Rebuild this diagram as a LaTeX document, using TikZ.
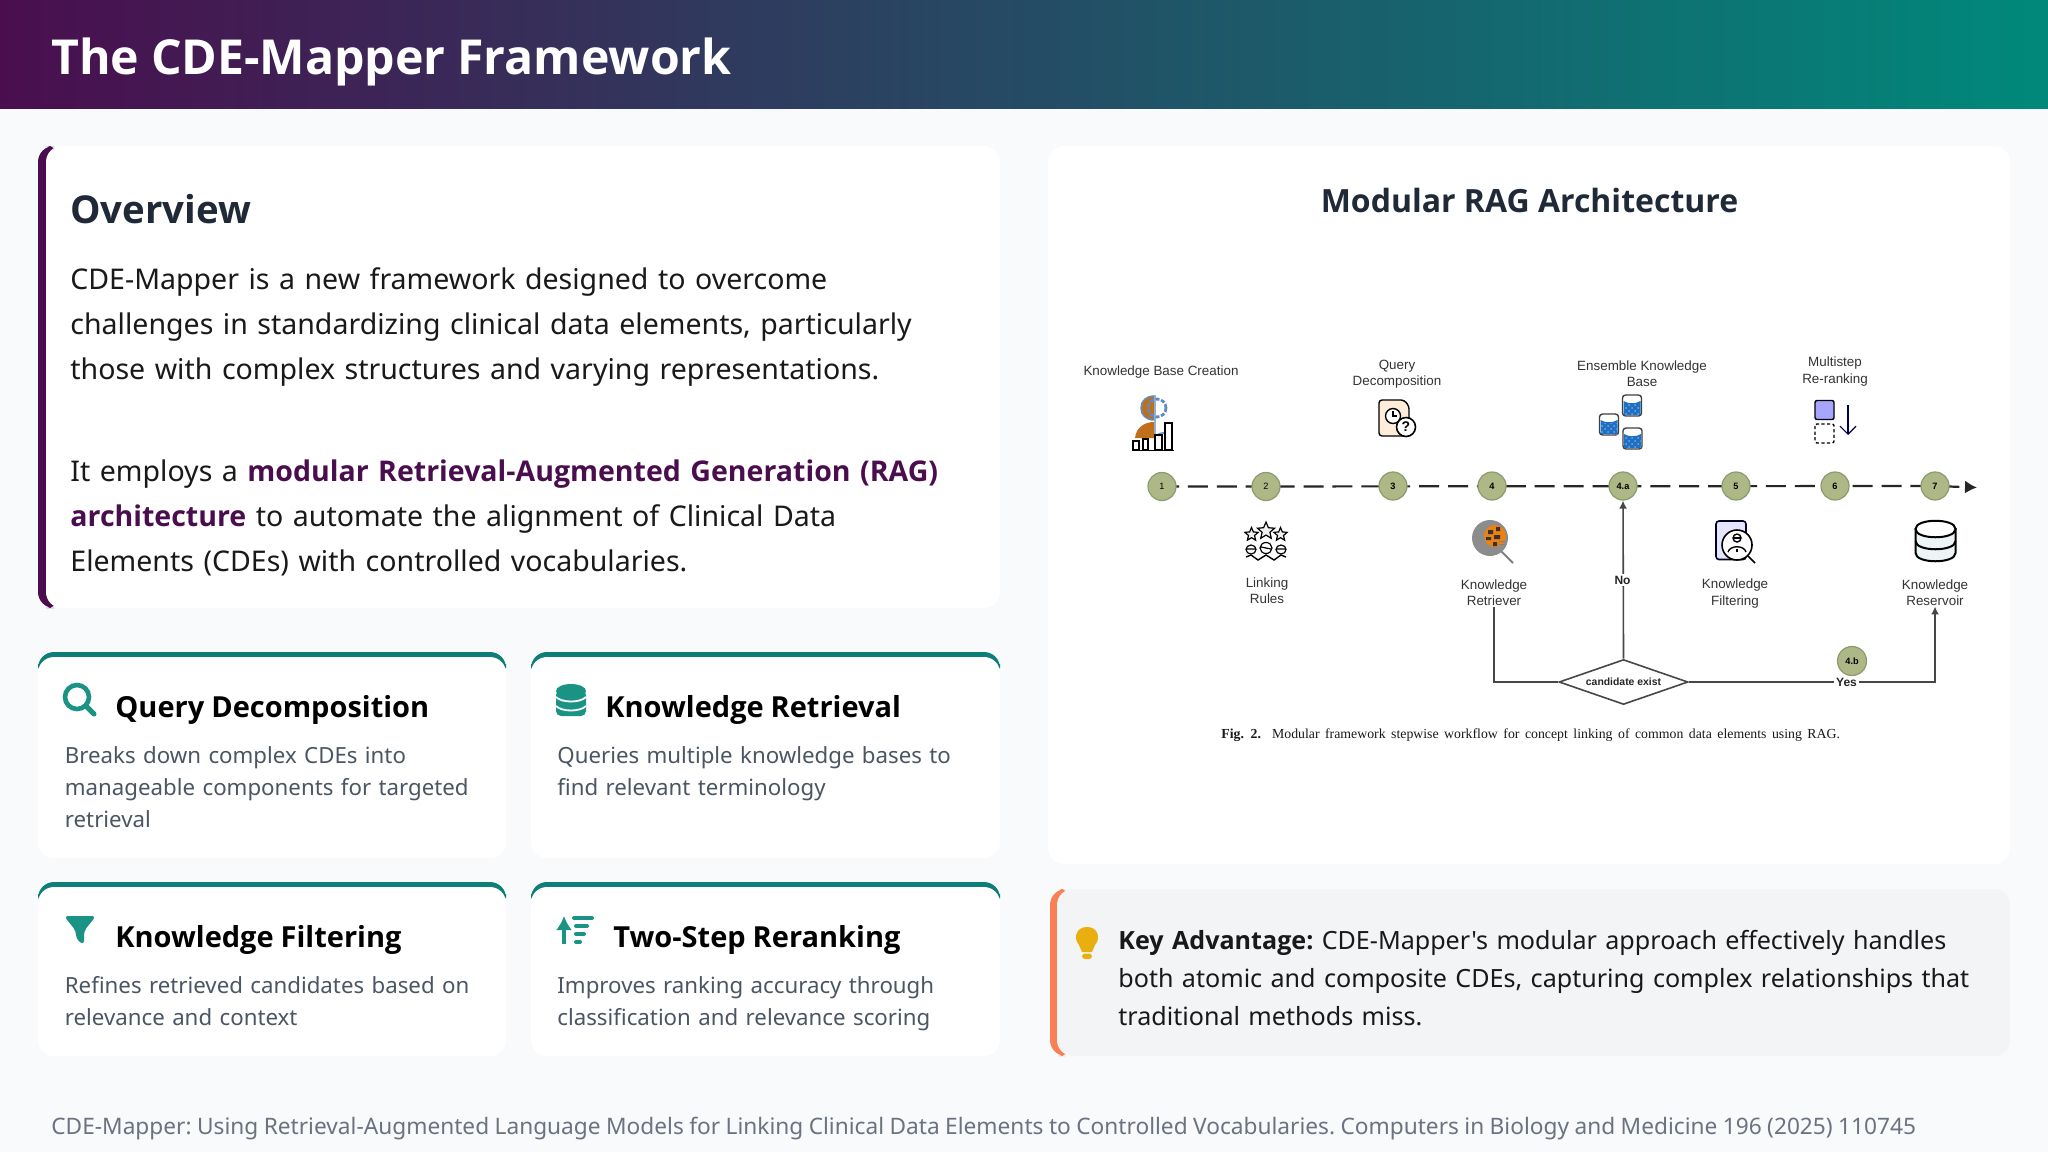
\documentclass[tikz,border=0pt]{standalone}
\usepackage{xcolor}
\usepackage{fontspec}
\usepackage{tikz}
\usetikzlibrary{shapes,arrows.meta,positioning,calc,patterns}
\setmainfont[Ligatures=TeXOff]{Noto Sans}
\newfontfamily\headfont{Open Sans}
\newfontfamily\figfont{Liberation Sans}
\newfontfamily\capfont[WordSpace=1.6]{Liberation Serif}
\newcommand{\hb}{\headfont\bfseries}
\newcommand{\fsz}[2]{\fontsize{#1}{#2}\selectfont\frenchspacing\spaceskip=0.24em\relax}

\definecolor{pagebg}{HTML}{F8FAFC}
\definecolor{plum}{HTML}{4A0E4E}
\definecolor{midnavy}{HTML}{2D4069}
\definecolor{tealend}{HTML}{00897B}
\definecolor{tealbar}{HTML}{0E7F76}
\definecolor{tealicon}{HTML}{1A9385}
\definecolor{inkdark}{HTML}{1F2937}
\definecolor{inkbody}{HTML}{4B5563}
\definecolor{inkfoot}{HTML}{6B7280}
\definecolor{keybg}{HTML}{F3F4F6}
\definecolor{coral}{HTML}{F97F55}
\definecolor{bulb}{HTML}{E8AF0E}
\definecolor{olive}{HTML}{AEB886}
\definecolor{oliveline}{HTML}{8C9A6E}
\definecolor{rust}{HTML}{C0701A}
\definecolor{gearblue}{HTML}{5B8CC8}
\definecolor{drum}{HTML}{1F6FC4}

\pgfdeclarelayer{steps}
\pgfsetlayers{main,steps}

\tikzset{
    txt/.style={inner sep=0pt,anchor=base west,align=left},
    cardtitle/.style={txt,text=black,font=\fsz{14.5}{18}\hb},
    cardbody/.style={txt,text=inkbody,text width=215pt,font=\fsz{11.13}{16}},
    stepdot/.style={circle,draw=oliveline,fill=olive,line width=0.6pt,minimum size=14pt,inner sep=0pt,font=\figfont\fontsize{4.6}{5}\selectfont\bfseries},
    figlabel/.style={inner sep=0pt,align=center,text=black!80,font=\figfont\fontsize{6.7}{8.1}\selectfont},
    flowline/.style={draw=black!72,line width=0.8pt},
    flowtag/.style={fill=white,inner sep=1pt,font=\figfont\fontsize{6}{7}\selectfont\bfseries,text=black!85},
    timeline/.style={line width=1.1pt,black!85,dash pattern=on 10pt off 4.45pt,dash phase=1.5pt,-{Latex[length=6pt,width=6.5pt]}},
    rankstar/.style={star,star points=5,star point ratio=2.2,draw=black,line width=0.6pt,fill=black!6,inner sep=0pt},
}

\newcommand{\kbdrum}[2]{%
    \draw[black!75,line width=0.7pt,fill=white,rounded corners=1.5pt] (#1-9.5,#2-9) rectangle (#1+9.5,#2+12);
    \fill[drum] (#1-8.5,#2-3) .. controls (#1-4,#2) and (#1+4,#2) .. (#1+8.5,#2-3) -- (#1+8.5,#2+11) -- (#1-8.5,#2+11) -- cycle;
    \fill[pattern=crosshatch dots,pattern color=drum!60!white] (#1-8.5,#2) rectangle (#1+8.5,#2+11);
}

\begin{document}
\begin{tikzpicture}[x=0.5pt,y=-0.5pt]
    \useasboundingbox (0,0) rectangle (2048,1152);
    \fill[pagebg] (0,0) rectangle (2048,1152);

    % Header
    \shade[left color=plum,middle color=midnavy,right color=tealend] (0,0) rectangle (2048,108);
    \node[txt,text=white,font=\fsz{24.1}{30}\hb] (maintitle) at (51,74) {The CDE-Mapper Framework};

    % Overview card
    \fill[plum,rounded corners=8pt] (38,146) rectangle (62,608);
    \fill[white,rounded corners=8pt] (46,146) rectangle (1000,608);
    \node[txt,text=inkdark,font=\fsz{19.2}{24}\hb] (overview) at (70,223) {Overview};
    \node[txt,text=black!90,text width=460pt,font=\fsz{14.26}{22.5}] (introa) at (70,289.5) {CDE-Mapper is a new framework designed to overcome\\challenges in standardizing clinical data elements, particularly\\those with complex structures and varying representations.};
    \node[txt,text=black!90,text width=460pt,font=\fsz{14.26}{22.4}] (introb) at (70,481.5) {It employs a \textcolor{plum}{\hb modular Retrieval-Augmented Generation (RAG)}\\\textcolor{plum}{\hb architecture} to automate the alignment of Clinical Data\\Elements (CDEs) with controlled vocabularies.};

    % Feature cards
    \fill[tealbar,rounded corners=8pt] (38,652) rectangle (506,680);
    \fill[white,rounded corners=8pt] (38,657) rectangle (506,858);
    \fill[tealbar,rounded corners=8pt] (531,652) rectangle (1000,680);
    \fill[white,rounded corners=8pt] (531,657) rectangle (1000,858);
    \fill[tealbar,rounded corners=8pt] (38,882) rectangle (506,910);
    \fill[white,rounded corners=8pt] (38,887) rectangle (506,1056);
    \fill[tealbar,rounded corners=8pt] (531,882) rectangle (1000,910);
    \fill[white,rounded corners=8pt] (531,887) rectangle (1000,1056);

    \node[cardtitle] (qdtitle) at (115,717) {Query Decomposition};
    \node[cardbody] (qdbody) at (64.5,763) {Breaks down complex CDEs into\\manageable components for targeted\\retrieval};
    \node[cardtitle] (krtitle) at (605,717) {Knowledge Retrieval};
    \node[cardbody] (krbody) at (557,763) {Queries multiple knowledge bases to\\find relevant terminology};
    \node[cardtitle] (kftitle) at (115,947) {Knowledge Filtering};
    \node[cardbody] (kfbody) at (64.5,993) {Refines retrieved candidates based on\\relevance and context};
    \node[cardtitle] (trtitle) at (613,947) {Two-Step Reranking};
    \node[cardbody] (trbody) at (557,993) {Improves ranking accuracy through\\classification and relevance scoring};

    % Card icons
    \draw[tealicon,line width=2.3pt] (77,697) circle (12);
    \draw[tealicon,line width=2.5pt,line cap=round] (86,706) -- (94,714);
    \fill[tealicon,rounded corners=2.5pt] (556,690) rectangle (586,716);
    \fill[tealicon] (571,691) ellipse [x radius=15,y radius=7];
    \draw[white,line width=0.9pt] (556,697) .. controls (562,703) and (580,703) .. (586,697);
    \draw[white,line width=0.9pt] (556,706) .. controls (562,712) and (580,712) .. (586,706);
    \fill[tealicon,rounded corners=2pt] (64,916) -- (96,916) -- (84,931) -- (84,945) -- (76,939) -- (76,931) -- cycle;
    \draw[tealicon,line width=2pt,-{Latex[length=7pt,width=8pt]}] (564,944) -- (564,916);
    \draw[tealicon,line width=2pt,line cap=round] (574,918) -- (592,918);
    \draw[tealicon,line width=2pt,line cap=round] (576,926) -- (587,926);
    \draw[tealicon,line width=2pt,line cap=round] (576,934) -- (584,934);
    \draw[tealicon,line width=2pt,line cap=round] (576,942) -- (580,942);

    % Architecture card
    \fill[white,rounded corners=8pt] (1048,146) rectangle (2010,864);
    \node[text=inkdark,font=\fontsize{16}{20}\selectfont\hb] (archtitle) at (1529.5,200) {Modular RAG Architecture};

    % Steps
    \begin{pgfonlayer}{steps}
        \node[stepdot,font=\figfont\fontsize{4.6}{5}\selectfont] (s1) at (1162,486.5) {1};
        \node[stepdot,font=\figfont\fontsize{4.6}{5}\selectfont] (s2) at (1266,486.5) {2};
        \node[stepdot] (s3) at (1393,486) {3};
        \node[stepdot] (s4) at (1492,486) {4};
        \node[stepdot] (s4a) at (1623,486) {4.a};
        \node[stepdot] (s5) at (1736,486) {5};
        \node[stepdot] (s6) at (1835,486) {6};
        \node[stepdot] (s7) at (1935,486) {7};
        \node[stepdot,minimum size=14.5pt] (s4b) at (1852,661) {4.b};
    \end{pgfonlayer}
    \coordinate (tlend) at (1977,487.5);
    \draw[timeline] (s1.center) -- (s7.center) -- (tlend);

    % Step labels
    \node[figlabel] (kbc) at (1161,372.5) {Knowledge Base Creation};
    \node[figlabel] (qdl) at (1397,374) {Query\\Decomposition};
    \node[figlabel] (ekb) at (1642,373.5) {Ensemble Knowledge\\Base};
    \node[figlabel] (msr) at (1835,371.5) {Multistep\\Re-ranking};
    \node[figlabel] (lrl) at (1267,591) {Linking\\Rules};
    \node[figlabel] (krl) at (1494,593) {Knowledge\\Retriever};
    \node[figlabel] (kfl) at (1735,593.5) {Knowledge\\Filtering};
    \node[figlabel] (rsv) at (1935,593) {Knowledge\\Reservoir};

    % Decision branch
    \node[diamond,draw=black!72,line width=0.8pt,fill=white,aspect=2.3,inner sep=0pt,minimum width=64.5pt,minimum height=22.5pt,font=\figfont\fontsize{5.2}{6}\selectfont\bfseries,text=black!85] (cand) at (1623.5,682) {candidate exist};
    \draw[flowline] ([yshift=-0.5pt]krl.south) |- (cand.west);
    \draw[flowline,-{Latex[length=4pt,width=4pt]}] (cand.north) -- (s4a.south);
    \draw[flowline,-{Latex[length=4pt,width=4pt]}] (cand.east) -| (rsv.south);
    \node[flowtag] (notag) at (1622.5,580) {No};
    \node[flowtag] (yestag) at (1846.5,682) {Yes};

    % Caption
    \node[inner sep=0pt,anchor=base west,text=black!90,font=\capfont\fontsize{6.9}{8}\selectfont] (figcap) at (1221,738) {\textbf{Fig. 2.}\ \ Modular framework stepwise workflow for concept linking of common data elements using RAG.};

    % Knowledge base creation icon
    \fill[rust] (1154,396) .. controls (1146,396) and (1141,401) .. (1141,408) .. controls (1141,415) and (1146,420) .. (1154,420) -- cycle;
    \draw[gearblue,line width=0.7pt] (1154,396) .. controls (1146,396) and (1141,401) .. (1141,408) .. controls (1141,415) and (1146,420) .. (1154,420);
    \draw[gearblue,line width=1.4pt,dash pattern=on 2pt off 0.9pt] (1157,408) circle (9);
    \fill[rust] (1135,438) .. controls (1136,428) and (1144,422) .. (1154,422) -- (1154,438) -- cycle;
    \draw[gearblue,line width=0.7pt] (1155,395) -- (1155,438) .. controls (1160,430) and (1166,432) .. (1171,438);
    \draw[black,line width=0.6pt,fill=white] (1133,441) rectangle (1139,450);
    \draw[black,line width=0.6pt,fill=white] (1143,439) rectangle (1148,450);
    \draw[black,line width=0.6pt,fill=white] (1155,435) rectangle (1162,450);
    \draw[black,line width=0.6pt,fill=white] (1165,423) rectangle (1172,450);
    \draw[black,line width=0.9pt] (1132,450.5) -- (1174,450.5);

    % Query decomposition icon
    \draw[black,line width=0.7pt,fill=orange!15,rounded corners=1.5pt] (1379,400) -- (1404,400) -- (1409,406) -- (1409,436) -- (1379,436) -- cycle;
    \draw[black,line width=0.7pt,fill=white] (1393,416) circle (7.5);
    \draw[black,line width=0.6pt] (1393,411) -- (1393,416) -- (1397,416);
    \node[circle,draw=black,line width=0.8pt,fill=white,minimum size=9.5pt,inner sep=0pt,font=\figfont\fontsize{7}{8}\selectfont\bfseries] (qmark) at (1406,427) {?};

    % Linking rules icon
    \node[rankstar,minimum size=7pt] (stara) at (1251.5,534.5) {};
    \node[rankstar,minimum size=9pt] (starb) at (1266,531) {};
    \node[rankstar,minimum size=7pt] (starc) at (1280.5,534.5) {};
    \draw[black,line width=0.6pt] (1251,549.5) ellipse [x radius=5,y radius=4.5];
    \draw[black,line width=0.6pt] (1266,548) ellipse [x radius=6,y radius=5.5];
    \draw[black,line width=0.6pt] (1281,549.5) ellipse [x radius=5,y radius=4.5];
    \draw[black,line width=0.6pt] (1246,549) -- (1256,549) (1261,547) -- (1271,549) (1276,549) -- (1286,549);
    \draw[black,line width=0.7pt] (1246,557) -- (1251,555) -- (1258,560) -- (1266,555) -- (1274,560) -- (1281,555) -- (1286,557);

    % Knowledge retriever icon
    \draw[black!50,line width=1pt] (1500,550) -- (1513,563);
    \fill[black!45] (1490,538) circle (18);
    \fill[orange!70!brown] (1495,536) circle (11);
    \fill[black!80] (1488,530) rectangle (1493,534) (1496,527) rectangle (1500,531) (1486,537) rectangle (1491,540) (1494,535) rectangle (1500,539) (1493,542) rectangle (1497,546);
    \draw[black!50,line width=0.5pt] (1499,541) -- (1505,541) (1499,544) -- (1505,544);

    % Ensemble knowledge base icon
    \kbdrum{1609}{423}
    \kbdrum{1632}{404}
    \kbdrum{1632.5}{437}

    % Multistep re-ranking icon
    \draw[black,line width=0.7pt,fill=blue!35!white,rounded corners=1pt] (1815,400.5) rectangle (1834,419.5);
    \draw[black,line width=0.7pt,dash pattern=on 1.6pt off 1.2pt,rounded corners=1pt] (1815,424) rectangle (1834,443);
    \draw[black!70!blue,line width=0.6pt,-{Straight Barb[length=4pt,width=8pt]}] (1848,405) -- (1848,435);

    % Knowledge filtering icon
    \draw[black!85!blue,line width=0.8pt,fill=blue!10,rounded corners=1.5pt] (1716,521) rectangle (1746,559.5);
    \draw[black,line width=0.8pt,fill=white] (1737,545) circle (15);
    \draw[black,line width=0.8pt] (1748,556) -- (1755,563);
    \draw[black,line width=0.7pt] (1737,538) circle (4);
    \draw[black,line width=0.6pt] (1733,538) -- (1741,538);
    \draw[black,line width=0.7pt] (1728,552) .. controls (1730,545) and (1744,545) .. (1746,552);
    \draw[black,line width=0.6pt] (1737,549) -- (1737,552);

    % Knowledge reservoir icon
    \draw[black,line width=1pt,fill=teal!8] (1915.5,529) -- (1915.5,553) .. controls (1915.5,564) and (1955.5,564) .. (1955.5,553) -- (1955.5,529) -- cycle;
    \draw[black,line width=1pt,fill=white] (1915.5,529) .. controls (1915.5,518) and (1955.5,518) .. (1955.5,529) .. controls (1955.5,540) and (1915.5,540) .. (1915.5,529) -- cycle;
    \draw[black,line width=1pt] (1915.5,541) .. controls (1915.5,552) and (1955.5,552) .. (1955.5,541);

    % Key advantage box
    \fill[coral,rounded corners=8pt] (1050,889) rectangle (1074,1056);
    \fill[keybg,rounded corners=8pt] (1057,889) rectangle (2010,1056);
    \node[txt,text=black!90,text width=450pt,font=\fsz{12.55}{19.2}] (keytext) at (1118,949) {{\hb Key Advantage:} CDE-Mapper's modular approach effectively handles\\both atomic and composite CDEs, capturing complex relationships that\\traditional methods miss.};
    \fill[bulb] (1079,945) .. controls (1073,938) and (1076,927) .. (1087,927) .. controls (1098,927) and (1101,938) .. (1095,945) -- (1092,952) -- (1082,952) -- cycle;
    \fill[bulb,rounded corners=1.5pt] (1082,953.5) rectangle (1092,959);

    % Footer
    \node[txt,text=inkfoot,font=\fsz{11.34}{16}] (footer) at (51,1134) {CDE-Mapper: Using Retrieval-Augmented Language Models for Linking Clinical Data Elements to Controlled Vocabularies. Computers in Biology and Medicine 196 (2025) 110745};
\end{tikzpicture}
\end{document}
